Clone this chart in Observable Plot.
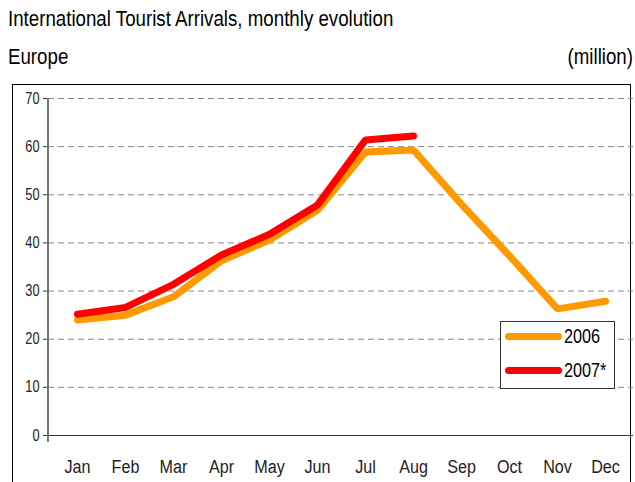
<!DOCTYPE html>
<html><head><meta charset="utf-8">
<script src="https://cdn.jsdelivr.net/npm/d3@7"></script>
<script src="https://cdn.jsdelivr.net/npm/@observablehq/plot@0.6"></script>
<style>
body{margin:0;background:#fff;font-family:"Liberation Sans",Arial,sans-serif;color:#000;}
#wrap{position:relative;width:635px;height:482px;overflow:hidden;}
.t{position:absolute;white-space:nowrap;transform:scaleX(0.85);font-size:22px;}
#frame{position:absolute;left:12px;top:84px;width:619px;height:420px;border:1.5px solid #000;box-sizing:border-box;}
#chart{position:absolute;left:0;top:0;}
#legend{position:absolute;left:500px;top:321px;width:115px;height:68px;border:1px solid #333;background:#fff;box-sizing:border-box;}
.li{position:absolute;left:4px;height:20px;display:flex;align-items:center;}
.li span{font-size:20px;display:inline-block;transform:scaleX(0.81);transform-origin:left center;}
.sw{width:57px;height:7px;border-radius:4px;margin-right:2px;}
</style></head>
<body><div id="wrap">
<div class="t" style="left:8px;top:6px;transform-origin:left top;">International Tourist Arrivals, monthly evolution</div>
<div class="t" style="left:8px;top:44px;transform-origin:left top;">Europe</div>
<div class="t" style="right:2px;top:44px;transform-origin:right top;">(million)</div>
<div id="frame"></div>
<div id="chart"></div>
<div id="legend"></div>
</div>
<script>
const months = ["Jan","Feb","Mar","Apr","May","Jun","Jul","Aug","Sep","Oct","Nov","Dec"];
const series = ["2006","2007*"];
const colors = ["#FF9900","#FF0000"];
const values2006 = [24.0, 25.0, 28.8, 36.3, 40.6, 46.8, 58.9, 59.3, 48.0, 37.3, 26.3, 27.9];
const values2007 = [25.2, 26.6, 31.4, 37.5, 41.8, 47.9, 61.4, 62.2];
const yTicks = [0,10,20,30,40,50,60,70];

const data = [];
values2006.forEach((v,i)=>data.push({month:months[i], value:v, series:series[0]}));
values2007.forEach((v,i)=>data.push({month:months[i], value:v, series:series[1]}));

const chart = Plot.plot({
  width:635, height:482,
  marginTop:98, marginBottom:47, marginLeft:48, marginRight:2,
  style:{fontFamily:'"Liberation Sans",Arial,sans-serif', background:"transparent", overflow:"visible"},
  x:{type:"band", domain:months, padding:0, label:null},
  y:{domain:[0,70], label:null},
  color:{domain:series, range:colors},
  marks:[
    Plot.gridY(yTicks.filter(d=>d>0), {stroke:"#888", strokeOpacity:1, strokeDasharray:"6,4", strokeWidth:1}),
    Plot.axisY(yTicks, {tickSize:5, tickPadding:4, fontSize:16, stroke:"#333", fill:"#222"}),
    Plot.axisX(months, {tickSize:0, tickPadding:24, fontSize:19, fill:"#222"}),
    Plot.ruleY([0], {stroke:"#333", strokeWidth:1.2}),
    Plot.line(data, {x:"month", y:"value", z:"series", stroke:"series", strokeWidth:7, strokeLinecap:"round", strokeLinejoin:"miter"})
  ]
});
const svg = d3.select(chart);
svg.selectAll("g[aria-label='y-axis tick label'] text").each(function(){
  const t = this.getAttribute("transform") || "";
  this.setAttribute("transform", t + " scale(0.8,1)");
});
svg.selectAll("g[aria-label='x-axis tick label'] text").each(function(){
  const t = this.getAttribute("transform") || "";
  this.setAttribute("transform", t + " scale(0.85,1)");
});
svg.append("line").attr("x1",48).attr("x2",48).attr("y1",98).attr("y2",442).attr("stroke","#777").attr("stroke-width",2);
document.getElementById("chart").appendChild(chart);

const leg = document.getElementById("legend");
series.forEach((s,i)=>{
  const d = document.createElement("div");
  d.className="li"; d.style.top = (4+i*34)+"px";
  d.innerHTML = `<div class="sw" style="background:${colors[i]}"></div><span>${s}</span>`;
  leg.appendChild(d);
});
</script>
</body></html>
